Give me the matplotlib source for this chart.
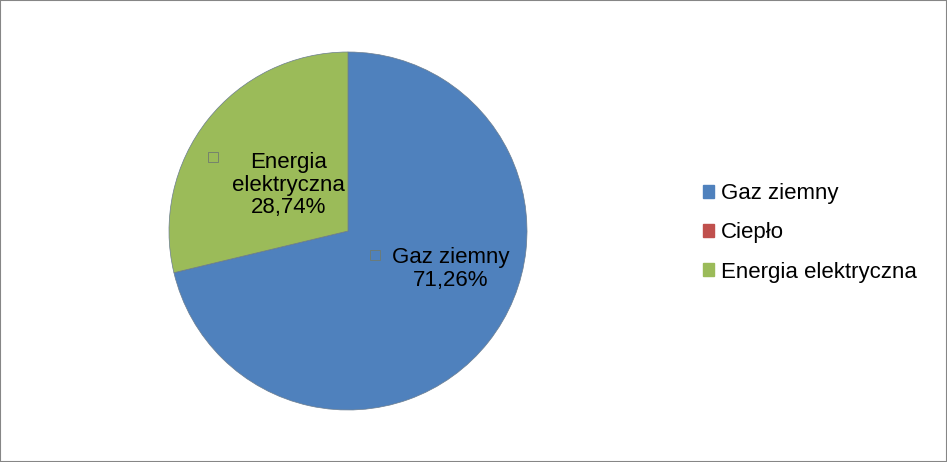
import matplotlib
matplotlib.use("Agg")
import matplotlib.pyplot as plt
from matplotlib.patches import Patch, Rectangle

categories = ["Gaz ziemny", "Ciepło", "Energia elektryczna"]
values = [71.26, 0.0, 28.74]
colors = ["#4F81BD", "#C0504D", "#9BBB59"]
pct_labels = ["71,26%", "0,00%", "28,74%"]

plt.rcParams['font.family'] = ['Liberation Sans', 'DejaVu Sans']

fig = plt.figure(figsize=(9.47, 4.62), dpi=100)
ax = fig.add_axes([169/947, 1-410/462, 358/947, 358/462])
ax.pie(values, colors=colors, startangle=90, counterclock=False,
       wedgeprops=dict(linewidth=0.5, edgecolor="#6b7d8f"), radius=1.0)
ax.set_xlim(-1, 1); ax.set_ylim(-1, 1)
ax.set_aspect('equal')

fs = 16
# data labels
ax.text(-0.33, 0.255, "Energia\nelektryczna\n" + pct_labels[2], ha='center', va='center',
        fontsize=fs, linespacing=1.1, color='black')
ax.text(0.575, -0.212, categories[0] + "\n" + pct_labels[0], ha='center', va='center',
        fontsize=fs, linespacing=1.1, color='black')
# small hollow key squares
for (x, y) in [((213-348)/179, (231-157)/179), ((375-348)/179, (231-255)/179)]:
    ax.plot([x], [y], marker='s', markersize=7, markerfacecolor='none',
            markeredgecolor='#6f7a6f', markeredgewidth=0.6)

handles = [Patch(facecolor=c, edgecolor=c) for c in colors]
fig.legend(handles, categories, loc='center left', bbox_to_anchor=(703/947, 1-233/462),
           frameon=False, fontsize=fs, handlelength=0.5, handleheight=0.5,
           handletextpad=0.3, labelspacing=0.82, borderpad=0, borderaxespad=0)

fig.patches.append(Rectangle((0, 0), 1, 1, transform=fig.transFigure, fill=False,
                             edgecolor='#868686', linewidth=1.5))
fig.savefig("out.png", dpi=100)
